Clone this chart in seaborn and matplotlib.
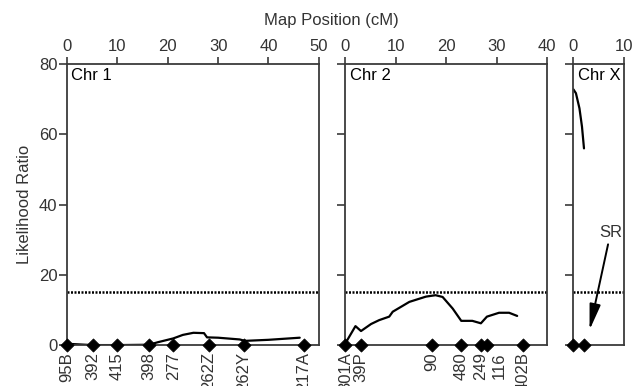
import numpy as np
import pandas as pd
import matplotlib
matplotlib.use("Agg")
import matplotlib.pyplot as plt
import seaborn as sns

# Marker positions (cM) and names per chromosome
chr1_marker_pos = [0, 5.2, 10.0, 16.3, 21.1, 28.2, 35.1, 47.0]
chr1_marker_names = ["95B", "392", "415", "398", "277", "262Z", "262Y", "217A"]
chr2_marker_pos = [0, 3.1, 17.1, 23.0, 26.9, 28.1, 35.2]
chr2_marker_names = ["301A", "39P", "90", "480", "249", "116", "402B"]
chrx_marker_pos = [0, 2.1]
chrx_marker_names = ["", ""]

# Likelihood ratio curves
chr1_curve_cm = [0, 1, 5, 10, 16.3, 18, 21.1, 23, 25.1, 27.2, 27.8, 30, 34.3, 35.3, 40, 46.2]
chr1_curve_lr = [0, 0.3, 0, 0, 0.1, 0.8, 1.9, 2.9, 3.5, 3.4, 2.2, 2.1, 1.6, 1.2, 1.5, 2.1]
chr2_curve_cm = [0, 2.0, 3.1, 5.1, 6.7, 8.7, 9.4, 12.7, 16.0, 17.9, 19.3, 21.3, 23.0, 25.2, 26.9, 28.1, 30.5, 32.5, 34.1]
chr2_curve_lr = [0.5, 5.4, 4.0, 6.0, 7.1, 8.1, 9.5, 12.3, 13.8, 14.2, 13.7, 10.4, 6.9, 6.9, 6.2, 8.1, 9.2, 9.2, 8.3]
chrx_curve_cm = [0, 0.5, 1.2, 1.7, 2.1]
chrx_curve_lr = [72.8, 71.7, 67.4, 62.2, 56.0]

threshold = 15.2
chr_names = ["Chr 1", "Chr 2", "Chr X"]
x_limits = [50, 40, 10]
y_ticks = [0, 20, 40, 60, 80]

sns.set_theme(style="ticks")
plt.rcParams["font.family"] = ["Liberation Sans", "DejaVu Sans"]
plt.rcParams["font.size"] = 12

edge = "#3a3a3a"
txt = "#333333"
fs = 12

fig, axes = plt.subplots(1, 3, figsize=(6.32, 3.86), dpi=100,
                         gridspec_kw={"width_ratios": x_limits})
fig.subplots_adjust(left=0.106, right=0.987, top=0.834, bottom=0.106, wspace=0.158)

panels = [
    (chr1_marker_pos, chr1_marker_names, chr1_curve_cm, chr1_curve_lr),
    (chr2_marker_pos, chr2_marker_names, chr2_curve_cm, chr2_curve_lr),
    (chrx_marker_pos, chrx_marker_names, chrx_curve_cm, chrx_curve_lr),
]

for i, (ax, (mpos, mnames, ccm, clr)) in enumerate(zip(axes, panels)):
    curve = pd.DataFrame({"cM": ccm, "LR": clr})
    sns.lineplot(data=curve, x="cM", y="LR", ax=ax, color="black", lw=1.6,
                 estimator=None, sort=False)
    ax.axhline(threshold, color="black", lw=1.8, ls=(0, (0.8, 0.6)))
    marks = pd.DataFrame({"cM": mpos, "LR": [0] * len(mpos)})
    sns.scatterplot(data=marks, x="cM", y="LR", ax=ax, marker="D", s=45,
                    color="black", edgecolor="black", clip_on=False, zorder=5)

    ax.set_xlim(0, x_limits[i])
    ax.set_ylim(0, 80)
    ax.set_yticks(y_ticks)
    ax.xaxis.set_ticks_position("top")
    ax.xaxis.set_label_position("top")
    ax.set_xticks(np.arange(0, x_limits[i] + 1, 10))
    ax.tick_params(axis="x", direction="out", length=5, width=1.2, colors=edge,
                   labelcolor=txt, labelsize=fs, pad=2)
    ax.tick_params(axis="y", direction="out", length=6, width=1.2, colors=edge,
                   labelcolor=txt, labelsize=fs, pad=1)
    ax.set_xlabel("")
    ax.set_ylabel("")
    for s in ax.spines.values():
        s.set_visible(True)
        s.set_color(edge)
        s.set_linewidth(1.3)
    if i > 0:
        ax.set_yticklabels([])

    # marker names under the axis
    label_pos = list(mpos)
    if mnames == chr2_marker_names:
        label_pos[5] = 30.5  # nudge "116" so it does not overlap "249"
    sec = ax.secondary_xaxis("bottom")
    sec.set_xticks(label_pos, mnames, rotation=90)
    sec.tick_params(length=0, pad=5, labelsize=fs, labelcolor=txt)
    sec.spines["bottom"].set_visible(False)

    ax.annotate(chr_names[i], xy=(0, 1), xycoords="axes fraction",
                xytext=(3, -3), textcoords="offset points",
                ha="left", va="top", fontsize=fs, color="black")

axes[0].set_ylabel("Likelihood Ratio", fontsize=fs, color=txt, labelpad=5)

axes[2].annotate("SR", xy=(3.2, 4.3), xytext=(7.4, 30), ha="center", va="bottom",
                 fontsize=fs, color=txt,
                 arrowprops=dict(arrowstyle="-|>,head_length=1.3,head_width=0.28",
                                 color="black", lw=1.4, shrinkA=1, shrinkB=0))

fig.text(0.525, 1 - 20 / 386, "Map Position (cM)", ha="center", va="center",
         fontsize=fs, color=txt)

fig.savefig("out.png", dpi=100)
